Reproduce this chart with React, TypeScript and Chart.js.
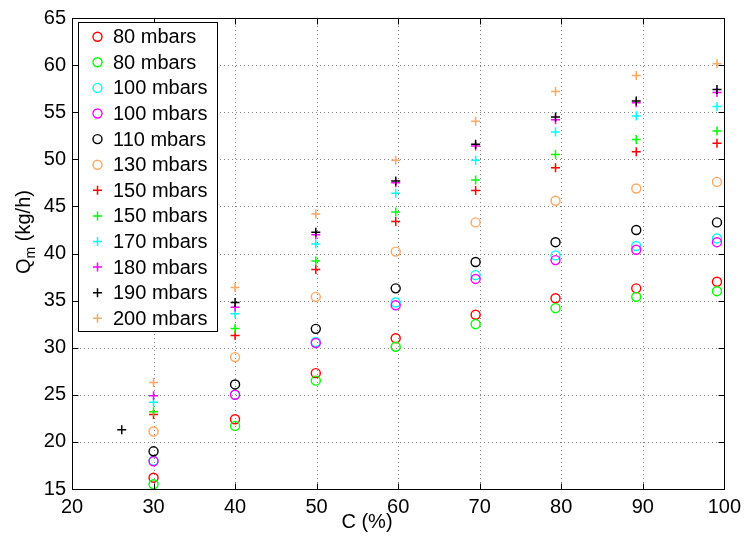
import React, { useEffect, useRef } from "react";
import { Chart, registerables } from "chart.js";

Chart.register(...registerables);

// ---- data ----
const X_MIN = 20;
const X_MAX = 100;
const Y_MIN = 15;
const Y_MAX = 65;
const X_STEP = 10;
const Y_STEP = 5;

const X_TITLE = "C (%)";
const Y_TITLE_MAIN = "Q";
const Y_TITLE_SUB = "m";
const Y_TITLE_REST = " (kg/h)";

// concentration positions of the measurement columns
const CONC = [30, 40, 49.9, 59.7, 69.5, 79.3, 89.2, 99.1];
const CONC_190 = [26.1, 40, 49.9, 59.7, 69.5, 79.3, 89.2, 99.1];

// circles
const O_80A = [16.2, 22.4, 27.3, 31.0, 33.5, 35.25, 36.3, 37.0];
const O_80B = [15.5, 21.7, 26.5, 30.1, 32.5, 34.2, 35.4, 36.0];
const O_100A = [18.0, 25.0, 30.6, 34.8, 37.7, 39.8, 40.8, 41.6];
const O_100B = [17.95, 25.0, 30.5, 34.5, 37.3, 39.3, 40.4, 41.2];
const O_110 = [19.0, 26.1, 32.0, 36.3, 39.1, 41.2, 42.5, 43.3];
const O_130 = [21.1, 29.0, 35.4, 40.2, 43.3, 45.6, 46.9, 47.6];
// crosses
const P_150A = [22.9, 31.3, 38.3, 43.4, 46.7, 49.1, 50.8, 51.7];
const P_150B = [23.2, 32.05, 39.2, 44.4, 47.8, 50.5, 52.1, 53.0];
const P_170 = [24.2, 33.6, 41.0, 46.4, 49.9, 52.9, 54.6, 55.6];
const P_180 = [24.9, 34.3, 42.0, 47.5, 51.4, 54.2, 56.0, 57.1];
const P_190 = [21.3, 34.8, 42.25, 47.7, 51.6, 54.5, 56.2, 57.4];
const P_200 = [26.3, 36.4, 44.2, 49.9, 54.05, 57.2, 58.9, 60.15];

const LABELS = [
  "80 mbars",
  "80 mbars",
  "100 mbars",
  "100 mbars",
  "110 mbars",
  "130 mbars",
  "150 mbars",
  "150 mbars",
  "170 mbars",
  "180 mbars",
  "190 mbars",
  "200 mbars",
];

const RED = "#ff0000";
const GREEN = "#00ff00";
const CYAN = "#00ffff";
const MAGENTA = "#ff00ff";
const BLACK = "#000000";
const ORANGE = "rgb(255,168,96)";

const SERIES = [
  { xs: CONC, ys: O_80A, color: RED, style: "circle" },
  { xs: CONC, ys: O_80B, color: GREEN, style: "circle" },
  { xs: CONC, ys: O_100A, color: CYAN, style: "circle" },
  { xs: CONC, ys: O_100B, color: MAGENTA, style: "circle" },
  { xs: CONC, ys: O_110, color: BLACK, style: "circle" },
  { xs: CONC, ys: O_130, color: ORANGE, style: "circle" },
  { xs: CONC, ys: P_150A, color: RED, style: "cross" },
  { xs: CONC, ys: P_150B, color: GREEN, style: "cross" },
  { xs: CONC, ys: P_170, color: CYAN, style: "cross" },
  { xs: CONC, ys: P_180, color: MAGENTA, style: "cross" },
  { xs: CONC_190, ys: P_190, color: BLACK, style: "cross" },
  { xs: CONC, ys: P_200, color: ORANGE, style: "cross" },
];

const FONT = "'Liberation Sans', Arial, Helvetica, sans-serif";
const FONT_SIZE = 20;
const MARK_R = 4.5;

function drawMarker(ctx: CanvasRenderingContext2D, style: string, color: string, x: number, y: number) {
  ctx.save();
  ctx.strokeStyle = color;
  if (style === "circle") {
    ctx.lineWidth = 1.4;
    ctx.beginPath();
    ctx.arc(x, y, MARK_R, 0, Math.PI * 2);
    ctx.stroke();
  } else {
    ctx.lineWidth = 1.5;
    ctx.beginPath();
    ctx.moveTo(x - MARK_R, y);
    ctx.lineTo(x + MARK_R, y);
    ctx.moveTo(x, y - MARK_R);
    ctx.lineTo(x, y + MARK_R);
    ctx.stroke();
  }
  ctx.restore();
}

const framePlugin = {
  id: "matlabFrame",
  beforeDatasetsDraw(chart: any) {
    const { ctx, chartArea } = chart;
    const xs = chart.scales.x;
    const ys = chart.scales.y;
    ctx.save();
    ctx.strokeStyle = "#808080";
    ctx.lineWidth = 1;
    ctx.setLineDash([1, 3]);
    for (let v = X_MIN + X_STEP; v < X_MAX; v += X_STEP) {
      const px = Math.round(xs.getPixelForValue(v)) + 0.5;
      ctx.beginPath();
      ctx.moveTo(px, chartArea.top);
      ctx.lineTo(px, chartArea.bottom);
      ctx.stroke();
    }
    for (let v = Y_MIN + Y_STEP; v < Y_MAX; v += Y_STEP) {
      const py = Math.round(ys.getPixelForValue(v)) + 0.5;
      ctx.beginPath();
      ctx.moveTo(chartArea.left, py);
      ctx.lineTo(chartArea.right, py);
      ctx.stroke();
    }
    ctx.restore();
  },
  afterDraw(chart: any) {
    const { ctx, chartArea } = chart;
    const xs = chart.scales.x;
    const ys = chart.scales.y;
    const L = Math.round(chartArea.left) + 0.5;
    const R = Math.round(chartArea.right) + 0.5;
    const T = Math.round(chartArea.top) + 0.5;
    const B = Math.round(chartArea.bottom) + 0.5;
    ctx.save();
    ctx.strokeStyle = "#000";
    ctx.lineWidth = 1;
    ctx.setLineDash([]);
    ctx.strokeRect(L, T, R - L, B - T);
    const TL = 6;
    ctx.beginPath();
    for (let v = X_MIN; v <= X_MAX; v += X_STEP) {
      const px = Math.round(xs.getPixelForValue(v)) + 0.5;
      ctx.moveTo(px, B);
      ctx.lineTo(px, B - TL);
      ctx.moveTo(px, T);
      ctx.lineTo(px, T + TL);
    }
    for (let v = Y_MIN; v <= Y_MAX; v += Y_STEP) {
      const py = Math.round(ys.getPixelForValue(v)) + 0.5;
      ctx.moveTo(L, py);
      ctx.lineTo(L + TL, py);
      ctx.moveTo(R, py);
      ctx.lineTo(R - TL, py);
    }
    ctx.stroke();

    // legend
    const bx = 78.5, by = 22.5, bw = 139, bh = 309;
    ctx.fillStyle = "#fff";
    ctx.fillRect(bx, by, bw, bh);
    ctx.strokeRect(bx, by, bw, bh);
    ctx.font = `${FONT_SIZE}px ${FONT}`;
    ctx.fillStyle = "#000";
    ctx.textBaseline = "middle";
    ctx.textAlign = "left";
    chart.data.datasets.forEach((ds: any, i: number) => {
      const yy = 36.7 + i * 25.6;
      drawMarker(ctx, SERIES[i].style, SERIES[i].color, 97.5, yy);
      ctx.fillStyle = "#000";
      ctx.fillText(ds.label, 113, yy + 1);
    });

    // x title
    ctx.textAlign = "center";
    ctx.textBaseline = "middle";
    ctx.fillText(X_TITLE, 367, 522);

    // y title with subscript
    ctx.save();
    ctx.translate(24, 232);
    ctx.rotate(-Math.PI / 2);
    ctx.textAlign = "left";
    ctx.textBaseline = "middle";
    ctx.font = `${FONT_SIZE}px ${FONT}`;
    const wQ = ctx.measureText(Y_TITLE_MAIN).width;
    const wRest = ctx.measureText(Y_TITLE_REST).width;
    ctx.font = `14px ${FONT}`;
    const wSub = ctx.measureText(Y_TITLE_SUB).width;
    const total = wQ + wSub + wRest;
    let cx = -total / 2;
    ctx.font = `${FONT_SIZE}px ${FONT}`;
    ctx.fillText(Y_TITLE_MAIN, cx, 0);
    cx += wQ;
    ctx.font = `14px ${FONT}`;
    ctx.fillText(Y_TITLE_SUB, cx, 7);
    cx += wSub;
    ctx.font = `${FONT_SIZE}px ${FONT}`;
    ctx.fillText(Y_TITLE_REST, cx, 0);
    ctx.restore();

    ctx.restore();
  },
};

export default function App() {
  const ref = useRef<HTMLCanvasElement | null>(null);

  useEffect(() => {
    document.body.style.margin = "0";
    const canvas = ref.current;
    if (!canvas) return;
    const n = SERIES.length;
    const datasets = SERIES.map((s, i) => ({
      label: LABELS[i],
      data: s.ys.map((y, k) => ({ x: s.xs[k], y })),
      pointStyle: s.style,
      pointRadius: MARK_R,
      pointHoverRadius: MARK_R,
      pointBorderWidth: s.style === "circle" ? 1.4 : 1.5,
      borderColor: s.color,
      pointBorderColor: s.color,
      backgroundColor: "rgba(0,0,0,0)",
      pointBackgroundColor: "rgba(0,0,0,0)",
      showLine: false,
      order: n - i,
    }));
    const chart = new Chart(canvas, {
      type: "scatter",
      data: { datasets },
      options: {
        animation: false,
        responsive: false,
        maintainAspectRatio: false,
        layout: { padding: { top: 15, right: 20, left: 0, bottom: 0 } },
        plugins: {
          legend: { display: false },
          tooltip: { enabled: false },
          title: { display: false },
        },
        scales: {
          x: {
            type: "linear",
            min: X_MIN,
            max: X_MAX,
            grid: { display: false, drawTicks: false },
            border: { display: false },
            ticks: {
              stepSize: X_STEP,
              color: "#000",
              font: { family: FONT, size: FONT_SIZE },
              padding: 6,
              maxRotation: 0,
            },
            afterFit: (s: any) => {
              s.height = 48;
            },
          },
          y: {
            type: "linear",
            min: Y_MIN,
            max: Y_MAX,
            grid: { display: false, drawTicks: false },
            border: { display: false },
            ticks: {
              stepSize: Y_STEP,
              color: "#000",
              font: { family: FONT, size: FONT_SIZE },
              padding: 6,
            },
            afterFit: (s: any) => {
              s.width = 72;
            },
          },
        },
      },
      plugins: [framePlugin],
    });
    return () => chart.destroy();
  }, []);

  return (
    <div style={{ width: 747, height: 537 }}>
      <canvas ref={ref} width={747} height={537} style={{ display: "block" }} />
    </div>
  );
}
